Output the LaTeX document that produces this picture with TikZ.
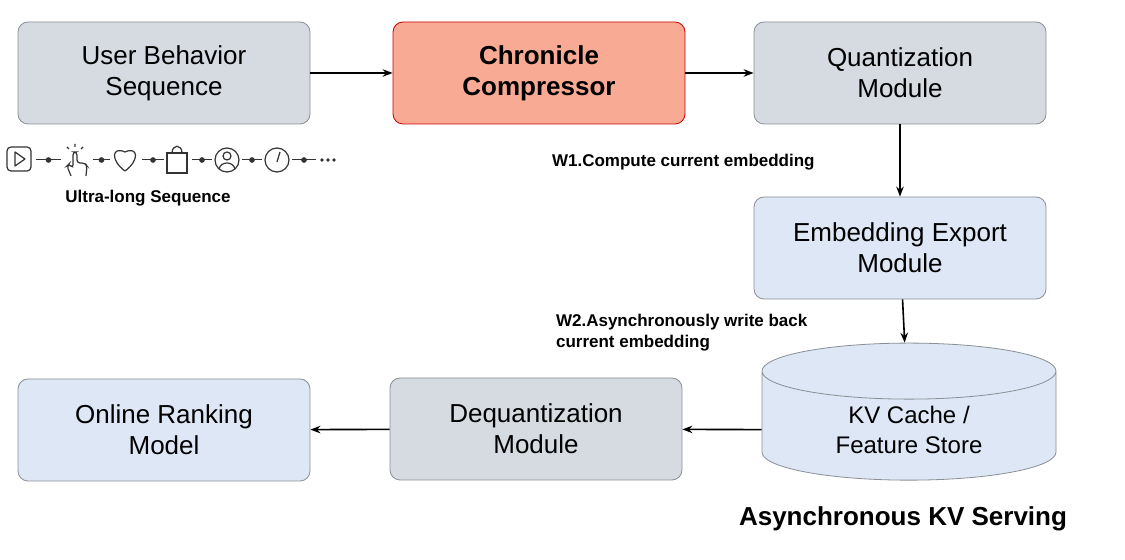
\documentclass[tikz,border=0pt]{standalone}
\usepackage{fontspec}
\setmainfont{Liberation Sans}
\usetikzlibrary{arrows.meta,shapes.geometric}
\definecolor{boxgray}{HTML}{D6DBE2}
\definecolor{boxblue}{HTML}{DDE7F5}
\definecolor{boxred}{HTML}{F8AA94}
\definecolor{linegray}{HTML}{8A8F96}
\tikzset{
  block/.style={draw=linegray, rounded corners=5pt, minimum width=146pt, minimum height=51pt, align=center, font=\fontsize{13}{15.5}\selectfont},
  arrow/.style={draw=black, thick, -{Stealth[length=5pt]}},
  icon/.style={draw=black!80, line width=0.6pt},
  link/.style={draw=black!80, line width=0.5pt},
  dot/.style={circle, fill=black!80, inner sep=1pt},
  note/.style={font=\bfseries\fontsize{8.5}{10.5}\selectfont, align=left}
}
\begin{document}
\begin{tikzpicture}[x=0.5pt, y=-0.5pt]
  \useasboundingbox (0,0) rectangle (1125,560);
  \begin{scope}
    \node (user) at (164, 73) [block, fill=boxgray] {User Behavior\\Sequence};
    \node (chron) at (539, 73) [block, fill=boxred, draw=red!80!black, font=\bfseries\fontsize{13}{15.5}\selectfont] {Chronicle\\Compressor};
    \node (quant) at (900, 73) [block, fill=boxgray] {Quantization\\Module};
    \node (export) at (900, 248) [block, fill=boxblue] {Embedding Export\\Module};
    \node (kv) at (909, 430) [cylinder, shape border rotate=90, aspect=0.35, draw=linegray, fill=boxblue, minimum width=147pt, minimum height=50pt, align=center, font=\fontsize{12}{15}\selectfont] {KV Cache /\\Feature Store};
    \node (deq) at (536, 429) [block, fill=boxgray] {Dequantization\\Module};
    \node (rank) at (164, 430) [block, fill=boxblue] {Online Ranking\\Model};

    \node (w1) at (545, 162) [note, anchor=west] {W1.Compute current embedding};
    \node (w2) at (549, 333) [note, anchor=west] {W2.Asynchronously write back\\current embedding};
    \node (ultra) at (148, 198) [note] {Ultra-long Sequence};
    \node (serving) at (903, 519) [font=\bfseries\fontsize{13}{15}\selectfont] {Asynchronous KV Serving};
  \end{scope}
  \begin{scope}
    \path [arrow] (user) -- (chron);
    \path [arrow] (chron) -- (quant);
    \path [arrow] (quant) -- (export);
    \path [arrow] (export) -- (kv);
    \path [arrow] (kv) -- (deq);
    \path [arrow] (deq) -- (rank);
  \end{scope}
  \begin{scope}
    % play button
    \draw [icon, rounded corners=2pt] (7,147) rectangle (31,171);
    \draw [icon, line join=round] (15,152) -- (15,166) -- (25,159) -- cycle;
    % hand
    \draw [icon, rounded corners=1.5pt] (71,176) -- (67,166) -- (69,164) -- (73,168) -- (73,152) -- (77,152) -- (77,163) -- (85,163) -- (87,166) -- (86,176);
    \draw [icon] (75,147) -- (75,144) (69,149) -- (67,147) (81,149) -- (83,147);
    % heart
    \draw [icon] (125,171) .. controls (110,160) and (112,146) .. (125,152) .. controls (138,146) and (140,160) .. (125,171);
    % bag
    \draw [icon] (167,153) rectangle (187,173);
    \draw [icon] (172,153) .. controls (172,144) and (182,144) .. (182,153);
    % person
    \draw [icon] (227,160) circle (12);
    \draw [icon] (227,156) circle (4);
    \draw [icon] (219,169) .. controls (221,161) and (233,161) .. (235,169);
    % clock
    \draw [icon] (277,160) circle (12);
    \draw [icon] (277,162) -- (280,152);
    % links between icons
    \foreach \a/\b in {36/61, 93/110, 142/164, 192/212, 242/262, 292/316} {
      \draw [link] (\a,160) -- (\b,160);
      \node [dot] at ({(\a+\b)/2},160) {};
    }
    \foreach \x in {322,328,334} \node [dot, inner sep=0.7pt] at (\x,160) {};
  \end{scope}
\end{tikzpicture}
\end{document}
